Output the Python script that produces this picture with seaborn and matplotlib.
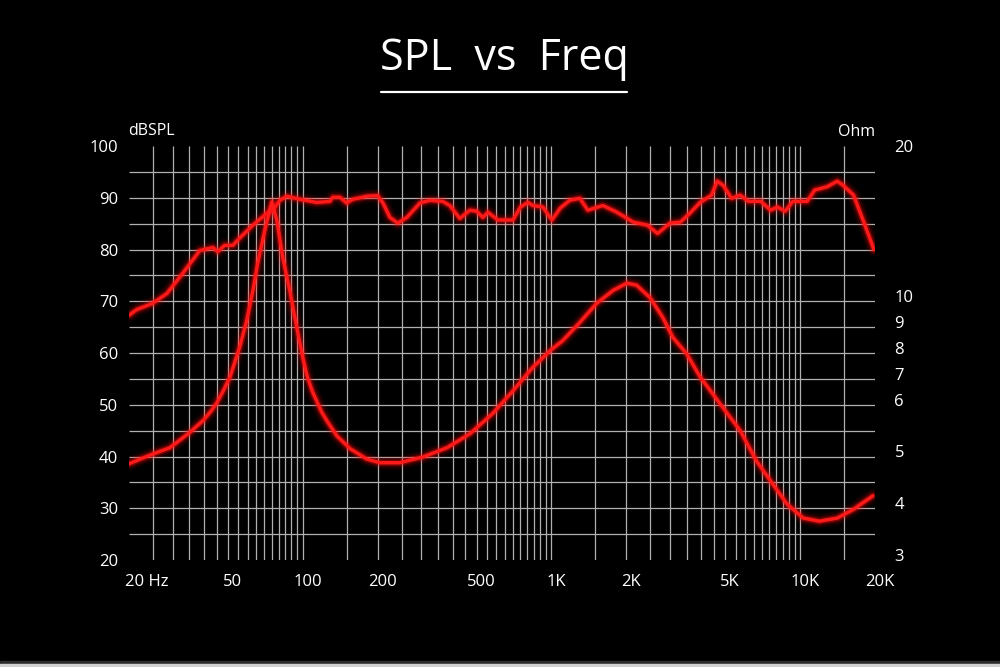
import numpy as np
import pandas as pd
import matplotlib
matplotlib.use("Agg")
import matplotlib.pyplot as plt
import matplotlib.transforms as mtransforms
from matplotlib.lines import Line2D
from matplotlib.patches import Rectangle
import seaborn as sns

# ---------------- data ----------------
spl_freq = [20, 21.5, 24.9, 28.4, 32.9, 38.5, 43.5, 45.5, 48.5, 52.3, 55.7, 63, 71.6, 75.7,
            80.8, 86.3, 97.3, 113.8, 128.4, 132, 141, 150, 159, 181, 200, 210, 224, 241,
            262, 296, 324, 365, 390, 428, 470, 500, 530, 555, 609, 700, 750, 804, 842,
            923, 1004, 1085, 1183, 1300, 1400, 1610, 1833, 2130, 2430, 2670, 3000, 3300,
            3600, 3960, 4400, 4640, 4900, 5300, 5740, 6200, 6950, 7600, 8100, 8700, 9350,
            10670, 11450, 12800, 14100, 14900, 16400, 17900, 19800]
spl_db = [67.3, 68.4, 69.6, 71.5, 75.4, 79.8, 80.4, 79.6, 80.8, 80.8, 82.2, 84.7, 87.0, 87.6,
          89.5, 90.3, 89.7, 89.1, 89.3, 90.1, 90.1, 89.0, 89.7, 90.3, 90.4, 89.0, 86.2, 85.1,
          86.2, 89.0, 89.5, 89.3, 88.5, 86.0, 87.6, 87.4, 86.2, 87.2, 85.7, 85.7, 88.2, 89.1, 88.5,
          88.2, 85.7, 88.0, 89.5, 89.9, 87.6, 88.5, 87.2, 85.3, 84.7, 83.1, 85.1, 85.3,
          87.0, 89.1, 90.5, 93.2, 92.4, 89.9, 90.5, 89.3, 89.3, 87.6, 88.2, 87.4, 89.3,
          89.3, 91.5, 92.1, 93.2, 92.4, 90.5, 85.7, 80.0]

# impedance trace, read against the shared left-axis grid
imp_freq = [20, 22.7, 25, 29.2, 35, 39.6, 42.8, 45, 48, 50.9, 55.7, 59.5, 63, 65.9, 70.3, 75,
            78.6, 83, 88.6, 94.6, 100, 104, 109, 114, 119, 125, 137, 155, 181, 204, 245, 304,
            380, 470, 580, 700, 840, 990, 1110, 1300, 1520, 1770, 2010, 2200, 2490, 2800,
            3080, 3490, 3960, 4900, 5740, 6680, 7600, 8860, 10300, 11950, 14100, 16400, 19600]
imp_trace = [38.6, 39.7, 40.5, 41.7, 44.6, 46.9, 48.8, 50.3, 52.8, 55.3, 61.1, 66.3, 72.1, 77.4,
             83.7, 89.2, 85.7, 78.5, 72.1, 64.9, 59.1, 55.6, 52.7, 50.6, 48.6, 46.9, 44.0,
             41.5, 39.5, 38.8, 38.8, 39.9, 41.7, 44.4, 48.3, 52.7, 57.2, 60.5, 62.4, 65.9,
             69.6, 72.1, 73.5, 73.1, 70.7, 66.9, 63.0, 59.9, 55.4, 49.4, 45.0, 39.1, 35.3,
             30.8, 28.1, 27.5, 28.1, 29.8, 32.4]

x_tick_vals = [20, 50, 100, 200, 500, 1000, 2000, 5000, 10000, 20000]
x_tick_labels = ["20 Hz", "50", "100", "200", "500", "1K", "2K", "5K", "10K", "20K"]
y_tick_vals = [20, 30, 40, 50, 60, 70, 80, 90, 100]
ohm_tick_pos = [100, 71, 66, 61, 56, 51, 41, 31, 21]
ohm_tick_labels = ["20", "10", "9", "8", "7", "6", "5", "4", "3"]

grid_freqs = (list(range(25, 100, 5)) + [100, 150] + list(range(200, 1001, 50)) + [1500]
              + list(range(2000, 10001, 500)) + [15000])
grid_db = list(range(25, 100, 5))

# ---------------- style ----------------
sns.set_theme(style="dark")
FONT = ["Open Sans", "DejaVu Sans"]
plt.rcParams["font.family"] = FONT
plt.rcParams["axes.facecolor"] = "black"
plt.rcParams["figure.facecolor"] = "black"

fig = plt.figure(figsize=(10, 6.67), dpi=100)
ax = fig.add_axes([0.129, 0.1604, 0.746, 0.6207])
ax.set_facecolor("black")
ax.set_xscale("log")
ax.set_xlim(20, 20000)
ax.set_ylim(20, 100)

# grid
ax.vlines(grid_freqs, 20, 100, colors="#b0b0b0", linewidth=0.9, zorder=1)
ax.hlines(grid_db, 20, 20000, colors="#b0b0b0", linewidth=0.9, zorder=1)

df_spl = pd.DataFrame({"freq": spl_freq, "val": spl_db})
df_imp = pd.DataFrame({"freq": imp_freq, "val": imp_trace})

glow_layers = [(10, 0.08, "#ff0000"), (7, 0.14, "#ff0000"), (4.5, 0.35, "#ff1010"), (2.4, 1.0, "#ff1a1a")]
for df in (df_spl, df_imp):
    for lw, a, c in glow_layers:
        sns.lineplot(data=df, x="freq", y="val", ax=ax, color=c, linewidth=lw, alpha=a,
                     estimator=None, sort=False, legend=False, zorder=3,
                     solid_capstyle="round", solid_joinstyle="round")

for s in ax.spines.values():
    s.set_visible(False)
ax.grid(False)
ax.set_xlabel("")
ax.set_ylabel("")
ax.set_xticks(x_tick_vals)
ax.set_xticklabels(x_tick_labels)
ax.xaxis.set_minor_locator(matplotlib.ticker.NullLocator())
ax.set_yticks(y_tick_vals)
ax.set_yticklabels([str(v) for v in y_tick_vals])
ax.tick_params(axis="x", length=0, pad=10, labelsize=12, labelcolor="white")
ax.tick_params(axis="y", length=0, pad=8, labelsize=12, labelcolor="white")

# small shifts of x labels to mimic the reference placement
for i, lab in enumerate(ax.get_xticklabels()):
    if i == 0:
        lab.set_horizontalalignment("left")
        off = mtransforms.ScaledTranslation(-4 / 100, 0, fig.dpi_scale_trans)
    else:
        off = mtransforms.ScaledTranslation(5 / 100, 0, fig.dpi_scale_trans)
    lab.set_transform(lab.get_transform() + off)

ax2 = ax.twinx()
ax2.set_ylim(20, 100)
for s in ax2.spines.values():
    s.set_visible(False)
ax2.grid(False)
ax2.set_yticks(ohm_tick_pos)
ax2.set_yticklabels(ohm_tick_labels)
ax2.tick_params(axis="y", length=0, pad=14, labelsize=12, labelcolor="white")

# axis unit labels
fig.text(0.128, 1 - 131 / 667, "dBSPL", color="white", fontsize=11.5, ha="left", va="center")
fig.text(0.875, 1 - 132 / 667, "Ohm", color="white", fontsize=11.5, ha="right", va="center")

# title with underline
fig.text(0.5045, 1 - 70 / 667, "SPL  vs  Freq", color="white", fontsize=31,
         ha="center", va="baseline")
fig.add_artist(Line2D([0.381, 0.627], [1 - 92 / 667, 1 - 92 / 667], color="white",
                      linewidth=1.6, transform=fig.transFigure))

# bottom border of the screenshot
fig.add_artist(Rectangle((0, 0), 1, 6 / 667, transform=fig.transFigure, color="#2b2b2b", zorder=0))
fig.add_artist(Rectangle((0, 0), 1, 3 / 667, transform=fig.transFigure, color="#d0d0d0", zorder=0))

fig.savefig("out.png", dpi=100, facecolor="black")
